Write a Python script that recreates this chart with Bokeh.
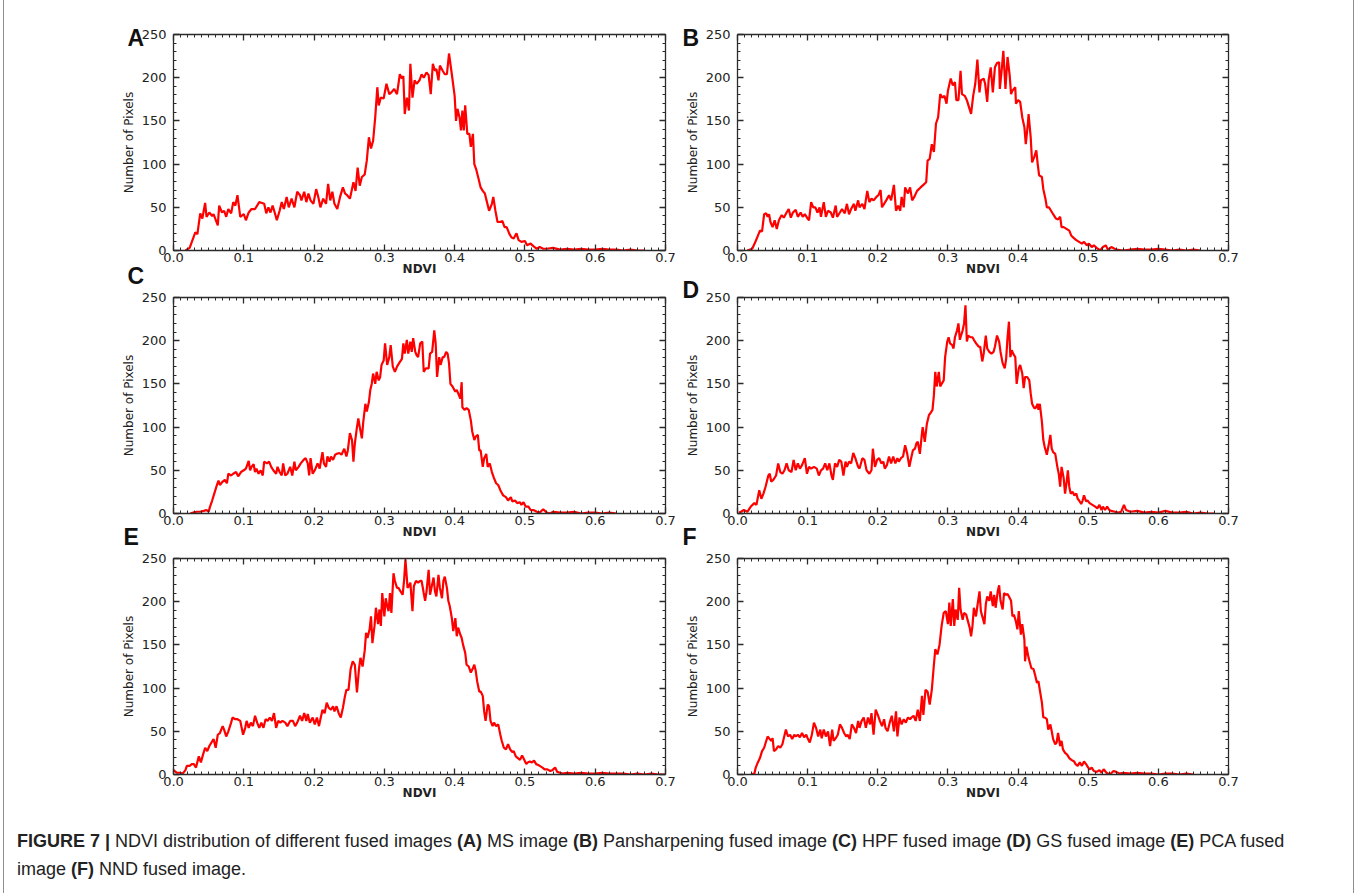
from bokeh.plotting import figure
from bokeh.models import Range1d, LinearAxis, FixedTicker, PrintfTickFormatter, Title, Div, InlineStyleSheet
from bokeh.layouts import column, row
from bokeh.embed import file_html
from bokeh.resources import INLINE

# ---------------- data (NDVI, number of pixels) ----------------
ndvi_a = [.017,.023,.031,.034,.038,.041,.045,.047,.051,.055,.057,.063,.065,.069,.072,.075,.078,.082,.085,.088,.091,.095,.100,.103,.107,.111,.116,.122,.126,.129,.132,.135,.138,.141,.144,.147,.151,.154,.157,.161,.164,.168,.172,.176,.180,.182,.186,.189,.192,.195,.199,.203,.206,.209,.213,.217,.220,.223,.226,.229,.233,.237,.241,.244,.247,.251,.256,.259,.262,.265,.268,.272,.275,.278,.281,.284,.287,.290,.292,.295,.299,.303,.307,.310,.314,.318,.322,.325,.327,.329,.332,.335,.337,.340,.343,.346,.350,.353,.356,.360,.363,.366,.369,.372,.374,.377,.379,.383,.386,.389,.392,.396,.400,.402,.404,.407,.409,.411,.413,.415,.418,.421,.423,.426,.428,.431,.434,.437,.440,.443,.446,.449,.453,.455,.458,.461,.464,.468,.471,.474,.478,.481,.484,.488,.491,.495,.500,.503,.508,.512,.517,.521,.526,.531,.540,.550,.560,.570,.580,.590,.600,.610,.620,.630,.640,.650,.660,.670]
count_a = [0,3,21,19,43,37,55,39,44,40,42,29,52,44,46,39,48,43,56,52,64,39,42,35,44,48,48,56,55,54,43,50,44,52,44,35,46,56,48,62,50,60,50,68,64,58,68,56,66,58,54,71,62,50,60,54,77,58,68,54,48,62,73,66,64,60,79,69,96,75,85,88,104,131,118,127,154,189,168,177,176,193,181,183,187,181,204,199,202,158,177,162,216,177,197,193,197,204,200,206,203,181,216,208,210,197,214,208,204,204,228,204,179,150,164,154,139,162,139,168,135,135,120,135,100,93,83,73,69,66,56,46,54,62,46,33,33,34,27,27,19,15,14,20,12,10,11,6,8,5,2,4,2,2,3,1,2,1,2,1,1,2,1,1,0,1,0,0]

ndvi_b = [.014,.021,.026,.029,.032,.035,.038,.041,.043,.045,.047,.050,.053,.056,.059,.063,.066,.070,.073,.076,.079,.083,.086,.090,.093,.096,.100,.102,.105,.108,.111,.114,.117,.119,.123,.126,.129,.133,.136,.140,.142,.146,.149,.153,.156,.159,.162,.166,.168,.172,.174,.178,.181,.185,.188,.191,.194,.198,.201,.204,.206,.209,.212,.216,.219,.223,.226,.229,.232,.234,.237,.239,.243,.246,.249,.252,.256,.261,.265,.269,.271,.274,.277,.280,.283,.286,.289,.292,.295,.298,.300,.304,.307,.310,.312,.315,.318,.320,.324,.327,.330,.333,.336,.339,.342,.345,.347,.351,.353,.356,.358,.361,.364,.367,.370,.373,.374,.377,.379,.382,.385,.388,.390,.392,.396,.397,.400,.403,.406,.409,.411,.414,.415,.418,.420,.423,.426,.428,.430,.434,.436,.439,.441,.444,.447,.450,.454,.457,.460,.462,.465,.469,.473,.476,.480,.483,.487,.491,.494,.498,.501,.505,.508,.512,.517,.521,.525,.528,.533,.540,.550,.560,.570,.580,.590,.600,.610,.620,.630,.640,.650,.660]
count_b = [0,2,11,17,23,22,42,43,39,42,33,27,35,25,35,41,38,44,48,38,44,47,39,44,39,42,37,35,56,50,50,44,50,39,56,39,46,44,38,52,39,44,48,43,54,42,48,54,46,58,50,54,48,69,56,60,58,62,64,70,50,54,58,64,58,76,46,52,46,62,50,73,66,73,58,62,69,73,76,79,104,106,123,114,147,154,181,177,179,170,185,199,191,195,174,174,208,181,179,174,166,158,179,193,221,183,197,199,193,172,197,212,183,212,217,218,187,212,231,187,224,203,181,185,189,170,174,172,154,143,123,147,158,131,102,108,116,100,87,85,71,60,50,50,46,42,37,36,39,27,27,25,23,17,14,12,10,8,10,6,8,4,6,3,0,4,6,1,4,1,0,1,2,1,1,2,1,0,1,0,1,0]

ndvi_c = [.024,.028,.033,.038,.043,.047,.050,.052,.055,.058,.061,.064,.066,.070,.073,.076,.078,.082,.085,.089,.092,.096,.100,.103,.107,.109,.111,.114,.116,.118,.121,.124,.127,.129,.133,.136,.139,.142,.146,.148,.151,.154,.156,.159,.162,.166,.169,.172,.174,.178,.181,.185,.188,.191,.193,.195,.198,.201,.205,.208,.210,.212,.214,.217,.219,.222,.224,.227,.230,.232,.236,.239,.243,.246,.248,.251,.254,.256,.258,.261,.263,.265,.268,.270,.273,.275,.278,.280,.282,.284,.287,.289,.292,.294,.296,.299,.301,.304,.307,.309,.312,.315,.318,.321,.325,.327,.329,.332,.334,.337,.339,.341,.344,.346,.348,.351,.354,.356,.359,.363,.365,.368,.371,.373,.375,.378,.380,.383,.385,.388,.390,.392,.394,.397,.401,.403,.405,.408,.410,.411,.414,.417,.420,.423,.425,.428,.430,.433,.435,.437,.440,.442,.445,.447,.450,.453,.456,.459,.462,.465,.469,.473,.476,.480,.482,.486,.489,.493,.495,.498,.501,.505,.508,.512,.517,.521,.526,.531,.536,.540,.550,.560,.570,.580,.590,.600,.610,.620,.630]
count_c = [0,1,2,2,3,4,2,8,15,23,31,38,33,37,39,35,46,44,46,48,43,48,50,52,61,50,54,57,48,52,46,50,44,60,58,60,54,50,46,54,48,44,58,44,46,54,44,60,50,54,58,62,64,58,44,64,46,50,58,52,62,71,58,54,66,60,66,62,68,69,70,68,75,66,73,93,85,60,81,100,110,100,87,106,127,118,129,143,150,162,150,164,154,158,172,177,197,172,181,195,170,164,170,174,179,197,185,201,185,199,187,203,187,183,181,197,199,164,168,168,185,187,212,197,158,181,172,181,181,187,185,174,150,147,141,143,139,133,152,123,120,122,120,108,95,85,89,91,73,73,54,64,69,54,58,48,41,35,33,27,21,19,15,19,14,15,12,13,10,13,8,8,4,4,2,1,5,1,0,2,1,1,2,0,1,1,0,1,0]

ndvi_d = [.002,.005,.009,.014,.019,.024,.027,.031,.034,.037,.040,.044,.046,.048,.051,.055,.058,.061,.064,.067,.070,.073,.077,.080,.083,.086,.089,.092,.096,.099,.102,.105,.109,.113,.116,.119,.122,.125,.128,.131,.134,.136,.139,.142,.145,.148,.151,.154,.156,.159,.162,.165,.168,.172,.174,.178,.181,.184,.188,.191,.193,.196,.199,.202,.205,.208,.210,.213,.216,.219,.222,.225,.228,.230,.233,.236,.239,.242,.245,.247,.250,.253,.255,.257,.260,.263,.264,.267,.270,.273,.275,.278,.280,.282,.284,.287,.289,.291,.294,.296,.299,.301,.303,.306,.308,.310,.313,.315,.317,.318,.321,.323,.325,.327,.329,.332,.335,.337,.340,.344,.346,.349,.351,.354,.356,.359,.362,.365,.367,.370,.373,.375,.378,.381,.383,.385,.387,.389,.391,.393,.396,.398,.401,.403,.406,.408,.410,.413,.416,.418,.420,.423,.425,.428,.429,.431,.434,.436,.438,.441,.444,.446,.448,.450,.453,.456,.458,.460,.462,.465,.467,.469,.471,.473,.475,.478,.480,.483,.485,.487,.490,.492,.494,.497,.499,.502,.506,.510,.513,.516,.519,.521,.524,.527,.530,.533,.538,.543,.547,.551,.554,.560,.570,.580,.590,.600,.610,.620,.630,.640,.650,.660,.670,.680]
count_d = [1,2,4,2,8,12,10,27,17,23,31,44,46,37,39,44,58,48,46,50,58,50,48,62,50,58,52,56,64,46,54,52,54,52,44,50,52,58,50,58,44,39,58,54,62,60,44,60,54,60,58,70,64,54,52,64,62,50,46,50,75,54,62,64,58,60,52,56,66,58,66,58,64,60,64,66,79,69,54,62,73,75,81,83,69,93,100,83,104,114,116,120,137,164,147,164,147,150,154,181,199,204,197,195,191,204,212,220,201,204,212,220,241,199,206,204,204,201,197,193,193,176,185,206,191,187,185,187,193,206,199,187,174,168,179,204,222,181,189,185,181,150,168,172,162,145,158,158,154,139,127,122,122,127,120,127,106,85,77,68,81,91,75,71,69,54,46,31,54,41,23,35,50,31,23,25,21,23,17,15,11,15,21,14,15,12,10,8,6,10,4,8,4,8,4,3,2,1,2,10,4,2,3,1,2,1,3,1,1,2,0,1,0,0]

ndvi_e = [.000,.005,.009,.013,.017,.019,.023,.026,.029,.032,.036,.039,.042,.045,.048,.051,.054,.057,.060,.063,.066,.070,.072,.075,.078,.082,.084,.088,.091,.095,.099,.102,.104,.107,.110,.113,.116,.119,.122,.125,.128,.131,.134,.137,.140,.143,.146,.149,.152,.155,.159,.162,.166,.170,.173,.176,.180,.183,.186,.189,.191,.194,.198,.201,.204,.207,.209,.212,.215,.218,.221,.224,.227,.229,.232,.235,.238,.241,.244,.246,.249,.252,.255,.258,.261,.264,.266,.269,.272,.274,.276,.279,.281,.283,.286,.288,.291,.293,.295,.297,.300,.302,.304,.306,.308,.310,.313,.315,.318,.320,.323,.326,.328,.330,.333,.335,.337,.340,.342,.345,.348,.351,.353,.356,.358,.360,.363,.365,.367,.370,.372,.374,.377,.379,.382,.384,.386,.389,.391,.393,.396,.398,.401,.403,.405,.408,.410,.412,.415,.417,.420,.423,.426,.428,.430,.432,.435,.437,.440,.442,.444,.447,.449,.451,.454,.456,.459,.462,.465,.467,.470,.473,.476,.479,.482,.484,.487,.490,.493,.496,.499,.502,.504,.507,.510,.513,.516,.519,.521,.525,.528,.532,.536,.539,.543,.546,.550,.554,.560,.570,.580,.590,.600,.610,.620,.630,.640,.650,.660,.670,.680,.690,.700]
count_e = [5,2,2,1,5,10,10,12,12,8,21,14,23,31,27,33,37,41,31,46,48,56,52,44,50,60,66,64,64,62,46,54,62,54,60,56,68,60,54,60,54,64,62,66,62,71,54,62,60,62,60,56,62,62,56,60,68,62,71,62,70,60,66,58,66,56,64,75,71,83,77,75,79,73,79,71,66,77,91,98,98,122,131,127,95,123,135,125,143,164,158,168,183,152,172,193,174,191,172,210,183,204,195,189,210,187,233,224,216,216,212,208,224,249,216,218,222,189,218,224,222,224,224,210,201,212,237,208,216,228,212,206,231,216,204,224,229,216,201,195,181,166,181,160,170,162,158,150,141,127,125,118,123,127,120,108,96,96,91,73,62,81,79,62,56,60,56,58,46,39,31,29,35,29,26,27,21,19,17,22,17,12,14,15,14,16,12,11,10,8,6,6,4,5,8,3,2,1,2,1,2,1,1,2,1,1,1,0,1,0,1,0,0]

ndvi_f = [.019,.024,.026,.029,.032,.035,.038,.041,.043,.046,.048,.050,.052,.055,.058,.061,.064,.066,.069,.072,.075,.078,.081,.083,.086,.089,.092,.095,.098,.100,.103,.106,.109,.112,.115,.118,.120,.123,.126,.129,.132,.135,.137,.140,.143,.146,.149,.152,.155,.157,.160,.163,.166,.169,.172,.174,.177,.180,.183,.186,.189,.191,.194,.197,.200,.203,.206,.209,.211,.214,.217,.220,.223,.226,.228,.231,.234,.237,.240,.243,.246,.248,.251,.254,.257,.260,.263,.265,.268,.271,.274,.277,.280,.282,.285,.288,.291,.294,.297,.300,.302,.304,.307,.309,.311,.314,.316,.318,.321,.323,.326,.328,.331,.333,.335,.337,.340,.342,.345,.347,.349,.352,.354,.356,.359,.361,.364,.366,.368,.371,.373,.375,.378,.380,.383,.385,.387,.390,.392,.394,.397,.399,.401,.404,.406,.409,.410,.412,.415,.417,.419,.422,.424,.427,.429,.431,.434,.436,.438,.441,.443,.446,.448,.450,.453,.455,.457,.460,.462,.464,.467,.470,.473,.476,.480,.482,.485,.488,.491,.494,.497,.500,.502,.505,.508,.512,.516,.519,.522,.526,.531,.536,.540,.545,.550,.560,.570,.580,.590,.600,.610,.620,.630,.640,.650]
count_f = [0,1,8,14,19,27,31,39,44,41,39,42,27,29,33,31,35,42,52,44,46,41,46,44,46,43,48,43,46,42,37,46,60,54,44,52,42,52,44,50,33,52,39,42,46,58,54,48,44,46,41,58,54,48,62,54,62,66,54,66,58,71,46,75,69,62,56,64,54,50,60,68,50,73,44,66,58,64,60,66,64,66,68,62,75,62,91,69,98,96,81,98,127,145,139,150,172,187,189,174,199,172,203,172,191,179,216,191,179,187,185,179,170,160,172,193,183,195,212,189,183,174,197,206,201,212,195,208,193,212,219,201,191,210,208,209,206,201,183,185,177,168,189,162,174,156,131,148,135,129,123,122,116,106,108,98,83,66,66,64,52,58,50,41,35,37,48,33,39,29,25,23,19,17,15,12,10,14,10,15,12,8,6,8,4,3,5,2,6,2,0,4,3,1,2,1,2,1,1,0,1,1,0,1,0]

x_ticks = [0.0, 0.1, 0.2, 0.3, 0.4, 0.5, 0.6, 0.7]
y_ticks = [0, 50, 100, 150, 200, 250]
panel_letters = ["A", "B", "C", "D", "E", "F"]
x_label = "NDVI"
y_label = "Number of Pixels"
caption_html = ('<b>FIGURE 7 |</b> NDVI distribution of different fused images <b>(A)</b> MS image '
                '<b>(B)</b> Pansharpening fused image <b>(C)</b> HPF fused image <b>(D)</b> GS fused image '
                '<b>(E)</b> PCA fused<br>image <b>(F)</b> NND fused image.')

# ---------------- styling helpers ----------------
AX_COL = "#2b2b2b"
TXT_COL = "#222222"
TICK_FONT = "DejaVu Sans"
x_minor = [i / 100 for i in range(71)]
y_minor = [i * 10 for i in range(26)]


def style_axis(ax, show_labels):
    ax.axis_line_color = AX_COL
    ax.axis_line_width = 1.3
    ax.major_tick_line_color = AX_COL
    ax.minor_tick_line_color = AX_COL
    ax.major_tick_line_width = 1.3
    ax.minor_tick_line_width = 1
    ax.major_tick_in = 6
    ax.major_tick_out = 0
    ax.minor_tick_in = 3
    ax.minor_tick_out = 0
    if show_labels:
        ax.major_label_text_font = TICK_FONT
        ax.major_label_text_font_size = "13px"
        ax.major_label_text_color = TXT_COL
    else:
        ax.formatter = PrintfTickFormatter(format="")
        ax.major_label_standoff = 0


def make_panel(xs, ys, width, height, mbl, mbr, mbt, mbb):
    p = figure(width=width, height=height, x_range=Range1d(0, 0.7), y_range=Range1d(0, 250),
               output_backend="svg", toolbar_location=None,
               x_axis_location=None, y_axis_location=None,
               min_border_left=mbl, min_border_right=mbr, min_border_top=mbt, min_border_bottom=mbb)
    p.outline_line_color = None
    p.xgrid.visible = False
    p.ygrid.visible = False
    p.background_fill_color = "white"
    p.border_fill_color = "white"
    for side in ("below", "above"):
        ax = LinearAxis(ticker=FixedTicker(ticks=x_ticks, minor_ticks=x_minor),
                        formatter=PrintfTickFormatter(format="%.1f"))
        style_axis(ax, side == "below")
        if side == "below":
            ax.major_label_standoff = 2
            ax.axis_label = x_label
            ax.axis_label_text_font = TICK_FONT
            ax.axis_label_text_font_size = "12px"
            ax.axis_label_text_font_style = "bold"
            ax.axis_label_text_color = TXT_COL
            ax.axis_label_standoff = -3
        p.add_layout(ax, side)
    for side in ("left", "right"):
        ax = LinearAxis(ticker=FixedTicker(ticks=y_ticks, minor_ticks=y_minor))
        style_axis(ax, side == "left")
        if side == "left":
            ax.major_label_standoff = 7
            ax.axis_label = y_label
            ax.axis_label_text_font = TICK_FONT
            ax.axis_label_text_font_size = "12px"
            ax.axis_label_text_font_style = "normal"
            ax.axis_label_text_color = TXT_COL
            ax.axis_label_standoff = 3
        p.add_layout(ax, side)
    p.line(xs, ys, line_color="#ff0000", line_width=2.2)
    return p


# geometry of each panel: (width, height, min_border left, right, top, bottom)
geo = {
    "A": (677, 288, 173, 12, 34, 38),
    "C": (677, 264, 173, 12, 9, 39),
    "E": (677, 253, 173, 12, 6, 31),
    "B": (678, 278, 60, 127, 34, 28),
    "D": (678, 274, 60, 127, 19, 39),
    "F": (678, 253, 60, 127, 6, 31),
}
data = {"A": (ndvi_a, count_a), "B": (ndvi_b, count_b), "C": (ndvi_c, count_c),
        "D": (ndvi_d, count_d), "E": (ndvi_e, count_e), "F": (ndvi_f, count_f)}

figs = {}
for k in panel_letters:
    W, H, mbl, mbr, mbt, mbb = geo[k]
    figs[k] = make_panel(data[k][0], data[k][1], W, H, mbl, mbr, mbt, mbb)


def add_letter(host, letter, side, offset, standoff):
    valign = "bottom" if side == "above" else "top"
    t = Title(text=letter, align="left", vertical_align=valign, offset=offset, standoff=standoff,
              text_font="Liberation Sans", text_font_size="23px", text_font_style="bold",
              text_color="#111111")
    figs[host].add_layout(t, side)


add_letter("A", "A", "above", -46, -32)
add_letter("B", "B", "above", -55, -32)
add_letter("A", "C", "below", -46, -31)
add_letter("D", "D", "above", -55, -10)
add_letter("C", "E", "below", -50, -35)
add_letter("D", "F", "below", -55, -35)

caption = Div(text='<div style="font-family: \'Liberation Sans\', Arial, sans-serif; font-size:18px; '
                   'line-height:28px; color:#222; padding:17px 0 0 12px;">' + caption_html + '</div>',
              width=1355, height=88)

frame_css = InlineStyleSheet(css=(
    ":host { position: relative; }"
    ":host::after { content: ''; position: absolute; top: 0; height: 893px; left: 3px; width: 1351px;"
    " box-sizing: border-box;"
    " border-left: 1px solid #8f8f8f; border-right: 1px solid #8f8f8f;"
    " pointer-events: none; z-index: 10; }"))

left_col = column(figs["A"], figs["C"], figs["E"], spacing=0)
right_col = column(figs["B"], figs["D"], figs["F"], spacing=0)
layout = column(row(left_col, right_col, spacing=0), caption, spacing=0, stylesheets=[frame_css])

open("out.html", "w").write(file_html(layout, INLINE))
